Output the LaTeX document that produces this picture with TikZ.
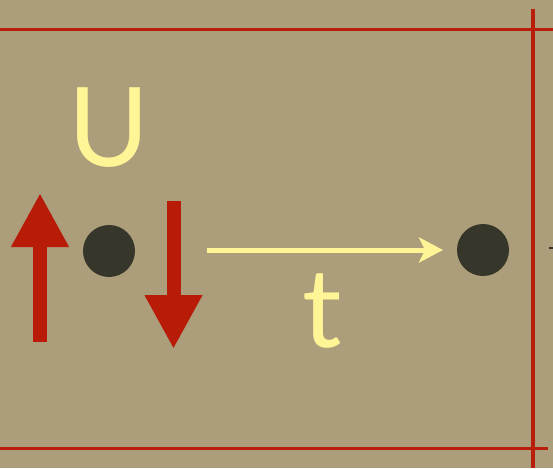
\documentclass[tikz,border=0pt]{standalone}
\usepackage{fontspec}
\setmainfont{Lato}
\usetikzlibrary{arrows.meta}
\definecolor{paper}{RGB}{172,158,122}
\definecolor{rule}{RGB}{184,30,10}
\definecolor{spin}{RGB}{184,28,8}
\definecolor{hop}{RGB}{255,244,150}
\definecolor{site}{RGB}{55,54,42}
\begin{document}
\begin{tikzpicture}[x=1pt,y=-1pt,
  frame/.style={draw=rule,line width=3.5pt},
  sitedot/.style={circle,fill=site,minimum size=52pt,inner sep=0pt},
  spinarrow/.style={draw=spin,line width=14pt,-{Triangle[width=54pt,length=54pt]}},
  hoparrow/.style={draw=hop,line width=5pt,-{Stealth[width=25pt,length=24pt,inset=6pt]}},
  label/.style={text=hop,font=\fontsize{110}{112}\selectfont,inner sep=0pt,anchor=base}]
\fill[paper] (0,0) rectangle (553,468);
\useasboundingbox (0,0) rectangle (553,468);
% frame lines
\coordinate (tl) at (0,29.5);
\coordinate (tr) at (553,29.5);
\coordinate (bl) at (0,448.5);
\coordinate (br) at (548,448.5);
\coordinate (vt) at (533,9);
\coordinate (vb) at (533,468);
\draw[frame] (tl) -- (tr);
\draw[frame] (bl) -- (br);
\draw[frame] (vt) -- (vb);
% lattice sites
\node[sitedot] (s1) at (109,251) {};
\node[sitedot] (s2) at (483,250) {};
% spins
\coordinate (upfrom) at (40,342);
\coordinate (upto) at (40,193);
\coordinate (dnfrom) at (173.5,201);
\coordinate (dnto) at (173.5,349);
\draw[spinarrow] (upfrom) -- (upto);
\draw[spinarrow] (dnfrom) -- (dnto);
% hopping
\coordinate (hopfrom) at (207,250);
\coordinate (hopto) at (443,250);
\draw[hoparrow] (hopfrom) -- (hopto);
% cut-off mark at the right edge
\coordinate (m1) at (549,248);
\coordinate (m2) at (553,248);
\draw[site,line width=1.5pt] (m1) -- (m2);
% labels
\node[label] (U) at (108.5,166) {U};
\node[label] (t) at (322,347) {t};
\end{tikzpicture}
\end{document}
